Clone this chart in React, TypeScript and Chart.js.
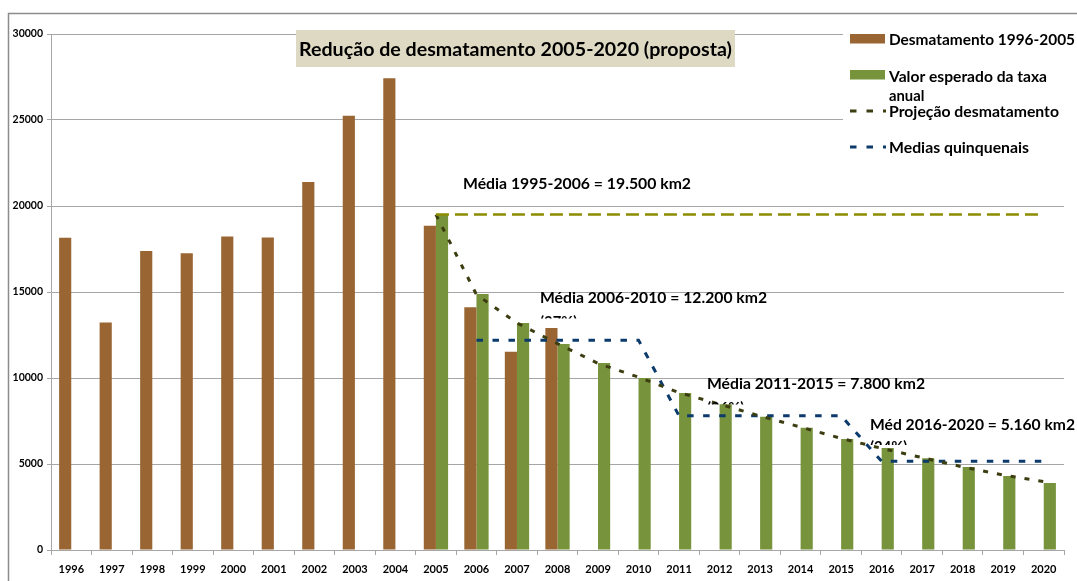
import React, { useEffect, useRef } from "react";
import { Chart, registerables } from "chart.js";

Chart.register(...registerables);

const years = [
  "1996", "1997", "1998", "1999", "2000", "2001", "2002", "2003", "2004", "2005",
  "2006", "2007", "2008", "2009", "2010", "2011", "2012", "2013", "2014", "2015",
  "2016", "2017", "2018", "2019", "2020",
];

const desmatamento = [
  18161, 13227, 17383, 17259, 18226, 18165, 21394, 25247, 27423, 18846,
  14109, 11532, 12900, null, null, null, null, null, null, null,
  null, null, null, null, null,
];

const valorEsperado = [
  null, null, null, null, null, null, null, null, null, 19500,
  14880, 13200, 11980, 10870, 10000, 9130, 8470, 7750, 7110, 6450,
  5930, 5330, 4830, 4300, 3900,
];

const projecao = [
  null, null, null, null, null, null, null, null, null, 19500,
  14850, 13200, 12000, 10850, 10050, 9150, 8480, 7790, 7150, 6490,
  5910, 5370, 4830, 4360, 3980,
];

const mediasQuinquenais = [
  null, null, null, null, null, null, null, null, null, null,
  12200, 12200, 12200, 12200, 12200, 7800, 7800, 7800, 7800, 7800,
  5160, 5160, 5160, 5160, 5160,
];

const media1995_2006 = [
  null, null, null, null, null, null, null, null, null, 19500,
  19500, 19500, 19500, 19500, 19500, 19500, 19500, 19500, 19500, 19500,
  19500, 19500, 19500, 19500, 19500,
];

const yTicks = { min: 0, max: 30000, step: 5000 };

const titleText = "Redução de desmatamento 2005-2020 (proposta)";
const legendLabels = [
  "Desmatamento 1996-2005",
  "Valor esperado da taxa",
  "anual",
  "Projeção desmatamento",
  "Medias quinquenais",
];
const annotations = [
  "Média 1995-2006 = 19.500 km2",
  "Média 2006-2010 = 12.200 km2",
  "Média 2011-2015 = 7.800 km2",
  "Méd 2016-2020 = 5.160 km2",
];
const percentLabels = ["(37%)", "(26%)", "(24%)"];

const BROWN = "#996633";
const GREEN = "#77933C";
const OLIVE = "#8C8C00";
const DARK_OLIVE = "#3D3D12";
const NAVY = "#0B3A6B";
const GRID = "#A6A6A6";
const FONT = 'Lato, "Open Sans", sans-serif';

function fitText(
  ctx: CanvasRenderingContext2D,
  text: string,
  x: number,
  baseline: number,
  size: number,
  targetW: number
) {
  ctx.save();
  ctx.font = `bold ${size}px ${FONT}`;
  const w = ctx.measureText(text).width;
  ctx.translate(x, baseline);
  ctx.scale(targetW / w, 1);
  ctx.textAlign = "left";
  ctx.textBaseline = "alphabetic";
  ctx.fillStyle = "#000";
  ctx.fillText(text, 0, 0);
  ctx.restore();
}

function plainText(
  ctx: CanvasRenderingContext2D,
  text: string,
  x: number,
  baseline: number,
  size: number
) {
  ctx.save();
  ctx.font = `bold ${size}px ${FONT}`;
  ctx.textAlign = "left";
  ctx.textBaseline = "alphabetic";
  ctx.fillStyle = "#000";
  ctx.fillText(text, x, baseline);
  ctx.restore();
}

const decorPlugin = {
  id: "decor",
  beforeDraw(chart: any) {
    const ctx = chart.ctx as CanvasRenderingContext2D;
    ctx.save();
    ctx.fillStyle = "#fff";
    ctx.fillRect(0, 0, chart.width, chart.height);
    ctx.strokeStyle = "#8C8C8C";
    ctx.lineWidth = 1.5;
    ctx.beginPath();
    ctx.moveTo(8.5, chart.height + 5);
    ctx.lineTo(8.5, 13.5);
    ctx.lineTo(chart.width + 5, 13.5);
    ctx.stroke();
    ctx.restore();
  },
  afterDraw(chart: any) {
    const ctx = chart.ctx as CanvasRenderingContext2D;
    // title box
    ctx.save();
    ctx.fillStyle = "#DDD9C3";
    ctx.fillRect(296, 30, 439, 37);
    ctx.restore();
    fitText(ctx, titleText, 299, 56, 18.5, 433);

    // legend box
    ctx.save();
    ctx.fillStyle = "#fff";
    ctx.fillRect(843, 18, 240, 148);
    ctx.fillStyle = BROWN;
    ctx.fillRect(850, 34, 35, 9.5);
    ctx.fillStyle = GREEN;
    ctx.fillRect(850, 70, 35, 9.5);
    ctx.lineWidth = 3;
    ctx.setLineDash([6.5, 10]);
    ctx.strokeStyle = DARK_OLIVE;
    ctx.beginPath();
    ctx.moveTo(850, 111);
    ctx.lineTo(886, 111);
    ctx.stroke();
    ctx.strokeStyle = NAVY;
    ctx.beginPath();
    ctx.moveTo(850, 147);
    ctx.lineTo(886, 147);
    ctx.stroke();
    ctx.restore();
    fitText(ctx, legendLabels[0], 889, 45, 14.8, 186);
    fitText(ctx, legendLabels[1], 889, 81.5, 14.8, 158);
    plainText(ctx, legendLabels[2], 889, 100.5, 14.8);
    fitText(ctx, legendLabels[3], 889, 117.3, 14.8, 170);
    fitText(ctx, legendLabels[4], 889, 153.3, 14.8, 140);

    // annotations
    fitText(ctx, annotations[0], 463, 188.5, 14.8, 228);
    fitText(ctx, annotations[1], 540, 303.3, 14.8, 227);
    fitText(ctx, annotations[2], 707, 388.5, 14.8, 218);
    fitText(ctx, annotations[3], 870, 430, 14.8, 205);

    const clips = [
      { x: 540, top: 308, bottom: 318.5, base: 326.5 },
      { x: 707, top: 394, bottom: 404.5, base: 412.5 },
      { x: 870, top: 433, bottom: 445, base: 452 },
    ];
    clips.forEach((c, i) => {
      ctx.save();
      ctx.beginPath();
      ctx.rect(c.x - 2, c.top, 80, c.bottom - c.top);
      ctx.clip();
      plainText(ctx, percentLabels[i], c.x, c.base, 14.8);
      ctx.restore();
    });
  },
};

export default function App() {
  const ref = useRef<HTMLCanvasElement | null>(null);

  useEffect(() => {
    if (!ref.current) return;
    const chart = new Chart(ref.current, {
      type: "bar",
      data: {
        labels: years,
        datasets: [
          {
            type: "line",
            label: "Média 1995-2006",
            data: media1995_2006,
            borderColor: OLIVE,
            borderWidth: 2.5,
            borderDash: [13, 6],
            pointRadius: 0,
            fill: false,
            tension: 0,
            order: 1,
          } as any,
          {
            type: "line",
            label: "Projeção desmatamento",
            data: projecao,
            borderColor: DARK_OLIVE,
            borderWidth: 3,
            borderDash: [5, 9],
            pointRadius: 0,
            fill: false,
            tension: 0,
            order: 1,
          } as any,
          {
            type: "line",
            label: "Medias quinquenais",
            data: mediasQuinquenais,
            borderColor: NAVY,
            borderWidth: 3,
            borderDash: [6.5, 9.5],
            pointRadius: 0,
            fill: false,
            tension: 0,
            order: 1,
          } as any,
          {
            type: "bar",
            label: "Desmatamento 1996-2005",
            data: desmatamento,
            backgroundColor: BROWN,
            borderWidth: 0,
            categoryPercentage: 0.6,
            barPercentage: 1.0,
            order: 3,
          } as any,
          {
            type: "bar",
            label: "Valor esperado da taxa anual",
            data: valorEsperado,
            backgroundColor: GREEN,
            borderWidth: 0,
            categoryPercentage: 0.6,
            barPercentage: 1.0,
            order: 3,
          } as any,
        ],
      },
      options: {
        responsive: false,
        animation: false,
        layout: { padding: { left: 0, top: 34, right: 13, bottom: 0 } },
        plugins: {
          legend: { display: false },
          title: { display: false },
          tooltip: { enabled: false },
        },
        scales: {
          x: {
            grid: {
              drawOnChartArea: false,
              drawTicks: true,
              tickLength: 5,
              color: GRID,
              offset: true,
            },
            border: { color: GRID, width: 1 },
            ticks: {
              font: { family: FONT, weight: "bold", size: 11 },
              color: "#000",
              padding: 8,
              maxRotation: 0,
              autoSkip: false,
            },
            afterFit(s: any) {
              s.height = 31;
            },
          },
          y: {
            min: yTicks.min,
            max: yTicks.max,
            ticks: {
              stepSize: yTicks.step,
              font: { family: FONT, weight: "bold", size: 10.5 },
              color: "#000",
              padding: 4,
              callback: (v: any) => String(v),
            },
            grid: { color: GRID, tickLength: 4 },
            border: { color: GRID, width: 1 },
            afterFit(s: any) {
              s.width = 51;
            },
          },
        },
      } as any,
      plugins: [decorPlugin],
    });
    return () => chart.destroy();
  }, []);

  return (
    <div style={{ position: "fixed", left: 0, top: 0, width: 1077, height: 581, background: "#fff" }}>
      <canvas ref={ref} width={1077} height={581} style={{ width: 1077, height: 581, display: "block" }} />
    </div>
  );
}
